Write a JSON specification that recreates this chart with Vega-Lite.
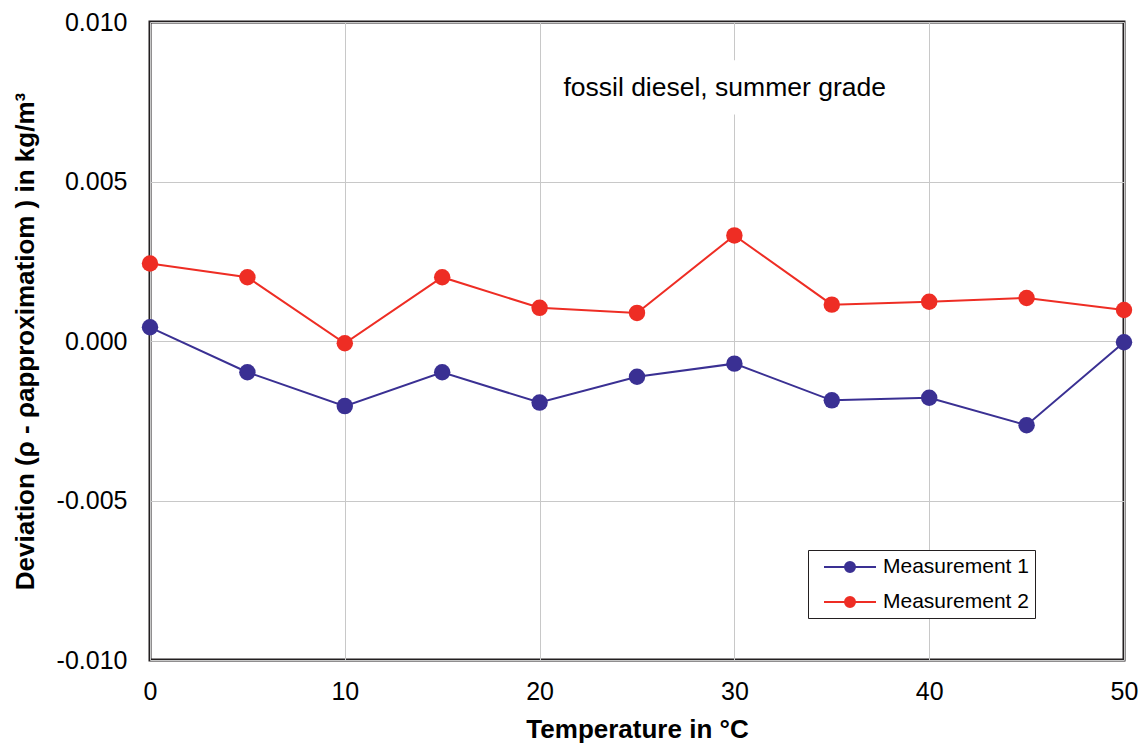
{
  "$schema": "https://vega.github.io/schema/vega-lite/v6.json",
  "autosize": {"type": "none"},
  "padding": {"left": 150, "top": 22, "right": 18, "bottom": 84},
  "width": 974,
  "height": 638,
  "background": "white",
  "config": {
    "font": "Liberation Sans",
    "view": {"stroke": "#231f20", "strokeWidth": 3},
    "axis": {
      "grid": true,
      "gridColor": "#c8c8c8",
      "gridWidth": 1,
      "domain": false,
      "ticks": false,
      "labelFont": "Liberation Sans",
      "labelFontSize": 25,
      "labelColor": "#000000",
      "labelFlush": false,
      "labelBound": false,
      "titleFont": "Liberation Sans",
      "titleFontSize": 26,
      "titleFontWeight": "bold",
      "titleColor": "#000000"
    }
  },
  "datasets": {
    "series": [
      {"t": 0, "dev": 0.00043, "series": "Measurement 1"},
      {"t": 5, "dev": -0.00098, "series": "Measurement 1"},
      {"t": 10, "dev": -0.00204, "series": "Measurement 1"},
      {"t": 15, "dev": -0.00098, "series": "Measurement 1"},
      {"t": 20, "dev": -0.00193, "series": "Measurement 1"},
      {"t": 25, "dev": -0.00112, "series": "Measurement 1"},
      {"t": 30, "dev": -0.00071, "series": "Measurement 1"},
      {"t": 35, "dev": -0.00186, "series": "Measurement 1"},
      {"t": 40, "dev": -0.00178, "series": "Measurement 1"},
      {"t": 45, "dev": -0.00264, "series": "Measurement 1"},
      {"t": 50, "dev": -0.00004, "series": "Measurement 1"},
      {"t": 0, "dev": 0.00243, "series": "Measurement 2"},
      {"t": 5, "dev": 0.00200, "series": "Measurement 2"},
      {"t": 10, "dev": -0.00007, "series": "Measurement 2"},
      {"t": 15, "dev": 0.00200, "series": "Measurement 2"},
      {"t": 20, "dev": 0.00104, "series": "Measurement 2"},
      {"t": 25, "dev": 0.00088, "series": "Measurement 2"},
      {"t": 30, "dev": 0.00331, "series": "Measurement 2"},
      {"t": 35, "dev": 0.00114, "series": "Measurement 2"},
      {"t": 40, "dev": 0.00123, "series": "Measurement 2"},
      {"t": 45, "dev": 0.00135, "series": "Measurement 2"},
      {"t": 50, "dev": 0.00097, "series": "Measurement 2"}
    ],
    "note": [
      {"x1": 22.6, "x2": 36.6, "y1": 0.0071, "y2": 0.0088, "xc": 29.5, "yc": 0.00792, "label": "fossil diesel, summer grade"}
    ]
  },
  "layer": [
    {
      "data": {"name": "series"},
      "mark": {"type": "line", "strokeWidth": 2, "clip": false},
      "encoding": {
        "x": {
          "field": "t", "type": "quantitative",
          "scale": {"domain": [0, 50], "nice": false, "zero": false},
          "axis": {"values": [0, 10, 20, 30, 40, 50], "title": "Temperature in °C", "labelPadding": 19, "titlePadding": 12}
        },
        "y": {
          "field": "dev", "type": "quantitative",
          "scale": {"domain": [-0.01, 0.01], "nice": false},
          "axis": {"values": [-0.01, -0.005, 0, 0.005, 0.01], "labelExpr": "replace(format(datum.value, '.3f'), '−', '-')", "title": "Deviation (ρ - ρapproximatiom ) in kg/m³", "labelPadding": 23, "titlePadding": 18}
        },
        "color": {
          "field": "series", "type": "nominal",
          "scale": {"domain": ["Measurement 1", "Measurement 2"], "range": ["#3a3093", "#ee2d24"]},
          "legend": {
            "title": null,
            "orient": "none",
            "legendX": 658,
            "legendY": 528,
            "direction": "vertical",
            "symbolType": "M-0.1,0L5.1,0M2,0A0.5,0.5,0,1,0,3,0A0.5,0.5,0,1,0,2,0",
            "symbolSize": 400,
            "symbolStrokeWidth": 2,
            "labelFontSize": 21,
            "labelFont": "Liberation Sans",
            "labelColor": "#000000",
            "labelOffset": 47,
            "rowPadding": 14,
            "strokeColor": "#231f20",
            "fillColor": "white",
            "padding": 6
          }
        }
      }
    },
    {
      "data": {"name": "series"},
      "mark": {"type": "point", "filled": true, "opacity": 1, "size": 270, "shape": "circle", "clip": false},
      "encoding": {
        "x": {"field": "t", "type": "quantitative"},
        "y": {"field": "dev", "type": "quantitative"},
        "color": {"field": "series", "type": "nominal"}
      }
    },
    {
      "data": {"name": "note"},
      "mark": {"type": "rect", "fill": "white"},
      "encoding": {
        "x": {"field": "x1", "type": "quantitative"},
        "x2": {"field": "x2"},
        "y": {"field": "y1", "type": "quantitative"},
        "y2": {"field": "y2"}
      }
    },
    {
      "data": {"name": "note"},
      "mark": {"type": "text", "fontSize": 26.5, "font": "Liberation Sans", "color": "#000000", "align": "center", "baseline": "middle"},
      "encoding": {
        "x": {"field": "xc", "type": "quantitative"},
        "y": {"field": "yc", "type": "quantitative"},
        "text": {"field": "label"}
      }
    }
  ]
}
